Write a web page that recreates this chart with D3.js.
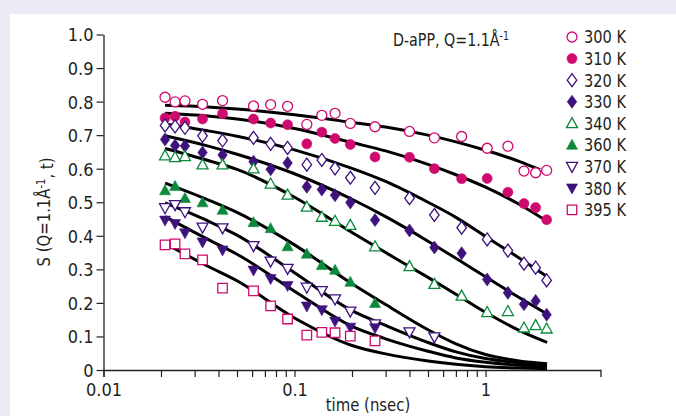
<!DOCTYPE html>
<html>
<head>
<meta charset="utf-8">
<script src="https://cdn.jsdelivr.net/npm/d3@7"></script>
<style>
  html, body { margin: 0; padding: 0; background: #ebebf6; }
  svg { display: block; }
  text { font-family: "Liberation Sans Narrow", "DejaVu Sans Condensed", "Arial Narrow", sans-serif; fill: #231f20; }
</style>
</head>
<body>
<svg id="chart" width="676" height="416"></svg>
<script>
// Measurement times (nsec), shared by all temperatures
const times = [0.021, 0.0237, 0.0267, 0.033, 0.042, 0.061, 0.075, 0.092, 0.116, 0.139, 0.163, 0.196,
               0.264, 0.40, 0.54, 0.75, 1.02, 1.31, 1.59, 1.83, 2.09];

const temperatures = ["300 K", "310 K", "320 K", "330 K", "340 K", "360 K", "370 K", "380 K", "395 K"];

// S(Q=1.1 Å^-1, t) measured at each temperature
const s300 = [0.813, 0.799, 0.802, 0.792, 0.803, 0.787, 0.791, 0.786, 0.732, 0.759, 0.765, 0.735, 0.725, 0.711, 0.692, 0.696, 0.661, 0.667, 0.593, 0.588, 0.595];
const s310 = [0.751, 0.756, 0.739, 0.748, 0.764, 0.748, 0.736, 0.731, 0.674, 0.709, 0.690, 0.672, 0.635, 0.634, 0.600, 0.570, 0.571, 0.530, 0.496, 0.484, 0.448];
const s320 = [0.729, 0.726, 0.722, 0.698, 0.684, 0.692, 0.674, 0.662, 0.612, 0.626, 0.601, 0.573, 0.543, 0.512, 0.462, 0.424, 0.389, 0.356, 0.317, 0.305, 0.267];
const s330 = [0.687, 0.669, 0.668, 0.648, 0.641, 0.621, 0.598, 0.617, 0.546, 0.538, 0.521, 0.499, 0.447, 0.416, 0.365, 0.348, 0.270, 0.230, 0.196, 0.206, 0.165];
const s340 = [0.639, 0.634, 0.637, 0.612, 0.612, 0.600, 0.555, 0.522, 0.486, 0.456, 0.444, 0.432, 0.368, 0.309, 0.256, 0.221, 0.172, 0.175, 0.126, 0.133, 0.123];
const s360 = [0.535, 0.548, 0.512, 0.499, 0.477, 0.440, 0.422, 0.368, 0.346, 0.312, 0.298, 0.262, 0.199];
const s370 = [0.483, 0.492, 0.471, 0.425, 0.423, 0.370, 0.324, 0.302, 0.246, 0.236, 0.211, 0.175, 0.137, 0.113, 0.098];
const s380 = [0.446, 0.436, 0.408, 0.381, 0.357, 0.297, 0.272, 0.251, 0.190, 0.179, 0.145, 0.127, 0.125];
const s395 = [0.373, 0.376, 0.346, 0.328, 0.244, 0.236, 0.191, 0.152, 0.104, 0.112, 0.111, 0.101, 0.087];

// Fitted relaxation curves, [time, S] pairs
const fit300 = [[0.021,0.789],[0.035,0.784],[0.05,0.778],[0.1,0.761],[0.2,0.738],[0.3,0.724],[0.5,0.700],[0.7,0.680],[1.0,0.655],[1.5,0.622],[1.93,0.597]];
const fit310 = [[0.021,0.765],[0.035,0.757],[0.05,0.748],[0.1,0.720],[0.2,0.678],[0.3,0.653],[0.5,0.613],[0.7,0.582],[1.0,0.545],[1.5,0.494],[2.05,0.447]];
const fit320 = [[0.021,0.733],[0.035,0.713],[0.05,0.697],[0.1,0.656],[0.2,0.601],[0.3,0.562],[0.5,0.500],[0.7,0.455],[1.0,0.398],[1.5,0.334],[2.1,0.279]];
const fit330 = [[0.021,0.698],[0.035,0.668],[0.05,0.643],[0.1,0.585],[0.2,0.509],[0.3,0.457],[0.5,0.384],[0.7,0.333],[1.0,0.278],[1.5,0.216],[2.1,0.167]];
const fit340 = [[0.021,0.660],[0.035,0.625],[0.05,0.598],[0.1,0.515],[0.2,0.410],[0.3,0.350],[0.5,0.276],[0.7,0.226],[1.0,0.172],[1.5,0.118],[2.1,0.082]];
const fit360 = [[0.021,0.557],[0.035,0.508],[0.05,0.470],[0.1,0.373],[0.2,0.257],[0.3,0.195],[0.5,0.120],[0.7,0.078],[1.0,0.046],[1.5,0.027],[2.1,0.019]];
const fit370 = [[0.021,0.498],[0.035,0.445],[0.05,0.402],[0.1,0.290],[0.2,0.177],[0.3,0.133],[0.5,0.082],[0.7,0.054],[1.0,0.034],[1.5,0.021],[2.1,0.014]];
const fit380 = [[0.021,0.457],[0.035,0.390],[0.05,0.345],[0.1,0.235],[0.2,0.130],[0.3,0.093],[0.5,0.056],[0.7,0.036],[1.0,0.023],[1.5,0.014],[2.1,0.009]];
const fit395 = [[0.021,0.377],[0.035,0.310],[0.05,0.266],[0.1,0.155],[0.2,0.073],[0.3,0.048],[0.5,0.027],[0.7,0.017],[1.0,0.010],[1.5,0.006],[2.1,0.004]];

// Axis ticks
const yTickValues = [0, 0.1, 0.2, 0.3, 0.4, 0.5, 0.6, 0.7, 0.8, 0.9, 1.0];
const yTickLabels = ["0", "0.1", "0.2", "0.3", "0.4", "0.5", "0.6", "0.7", "0.8", "0.9", "1.0"];
const xLabelValues = [0.01, 0.1, 1];
const xLabelTexts = ["0.01", "0.1", "1"];

// ---- marker shapes (size = nominal radius) ----
const shapes = {
  circle:  { draw(c, r) { c.moveTo(r, 0); c.arc(0, 0, r, 0, 2 * Math.PI); } },
  diamond: { draw(c, r) { c.moveTo(0, -r * 1.3); c.lineTo(r * 0.95, 0); c.lineTo(0, r * 1.3); c.lineTo(-r * 0.95, 0); c.closePath(); } },
  triUp:   { draw(c, r) { c.moveTo(0, -r * 1.15); c.lineTo(r * 1.1, r * 0.85); c.lineTo(-r * 1.1, r * 0.85); c.closePath(); } },
  triDown: { draw(c, r) { c.moveTo(0, r * 1.15); c.lineTo(r * 1.1, -r * 0.85); c.lineTo(-r * 1.1, -r * 0.85); c.closePath(); } },
  square:  { draw(c, r) { c.rect(-r * 0.95, -r * 0.95, r * 1.9, r * 1.9); } }
};

const pink = "#cf0a6e", purple = "#3e127c", green = "#0b8a3b";

const series = [
  { name: temperatures[0], values: s300, fit: fit300, shape: "circle",  color: pink,   filled: false },
  { name: temperatures[1], values: s310, fit: fit310, shape: "circle",  color: pink,   filled: true  },
  { name: temperatures[2], values: s320, fit: fit320, shape: "diamond", color: purple, filled: false },
  { name: temperatures[3], values: s330, fit: fit330, shape: "diamond", color: purple, filled: true  },
  { name: temperatures[4], values: s340, fit: fit340, shape: "triUp",   color: green,  filled: false },
  { name: temperatures[5], values: s360, fit: fit360, shape: "triUp",   color: green,  filled: true  },
  { name: temperatures[6], values: s370, fit: fit370, shape: "triDown", color: purple, filled: false },
  { name: temperatures[7], values: s380, fit: fit380, shape: "triDown", color: purple, filled: true  },
  { name: temperatures[8], values: s395, fit: fit395, shape: "square",  color: pink,   filled: false }
];

const svg = d3.select("#chart");

// white panel on the tinted page
svg.append("rect").attr("x", 10).attr("y", 14).attr("width", 666).attr("height", 402).attr("fill", "#ffffff");

const x = d3.scaleLog().domain([0.01, 4]).range([103.5, 600.5]);
const y = d3.scaleLinear().domain([0, 1]).range([370, 34.5]);

// ---- axes ----
const axisColor = "#231f20";
const yAxis = svg.append("g").attr("transform", "translate(103.5,0)")
  .call(d3.axisLeft(y).tickValues(yTickValues).tickSize(7).tickSizeOuter(0).tickPadding(3)
    .tickFormat((d, i) => yTickLabels[i]));
yAxis.selectAll("text").style("font-size", "18px").attr("dy", "0.36em");

const xMinor = x.ticks().filter(t => t <= 1.0001);
const xAxis = svg.append("g").attr("transform", "translate(0,370)")
  .call(d3.axisBottom(x).tickValues(xMinor).tickSize(7).tickSizeOuter(7).tickPadding(6)
    .tickFormat(t => {
      const k = xLabelValues.findIndex(v => Math.abs(v - t) < 1e-9);
      return k >= 0 ? xLabelTexts[k] : "";
    }));
xAxis.selectAll("text").style("font-size", "18px");

[yAxis, xAxis].forEach(g => {
  g.select(".domain").attr("stroke", axisColor).attr("stroke-width", 1.3);
  g.selectAll(".tick line").attr("stroke", axisColor).attr("stroke-width", 1.2);
  g.selectAll("text").attr("fill", axisColor);
});

// axis titles (narrowed to a condensed look)
svg.append("text").attr("transform", "translate(368,411) scale(0.92,1)").attr("text-anchor", "middle")
  .style("font-size", "18px").text("time (nsec)");

const yTitle = svg.append("text")
  .attr("transform", "translate(50,212) rotate(-90) scale(0.92,1)")
  .attr("text-anchor", "middle").style("font-size", "18px");
yTitle.append("tspan").text("S (Q=1.1Å");
yTitle.append("tspan").attr("dy", "-0.45em").style("font-size", "12px").text("-1");
yTitle.append("tspan").attr("dy", "0.45em").text(", t)");

// ---- fitted curves ----
const line = d3.line().x(d => x(d[0])).y(d => y(d[1])).curve(d3.curveMonotoneX);
svg.append("g").selectAll("path").data(series).join("path")
  .attr("d", d => line(d.fit))
  .attr("fill", "none").attr("stroke", "#000").attr("stroke-width", 3);

// ---- data markers ----
const symbol = d3.symbol();
series.forEach(s => {
  svg.append("g").selectAll("path").data(s.values).join("path")
    .attr("transform", (v, i) => `translate(${x(times[i])},${y(v)})`)
    .attr("d", symbol.type(shapes[s.shape]).size(5)())
    .attr("fill", s.filled ? s.color : "#ffffff")
    .attr("stroke", s.color)
    .attr("stroke-width", s.filled ? 0.6 : 1.3);
});

// ---- title ----
const title = svg.append("text").attr("transform", "translate(393,46) scale(0.88,1)").style("font-size", "18px");
title.append("tspan").text("D-aPP, Q=1.1Å");
title.append("tspan").attr("dy", "-0.5em").style("font-size", "12px").text("-1");

// ---- legend ----
const legend = svg.append("g").selectAll("g").data(series).join("g")
  .attr("transform", (d, i) => `translate(572,${37 + i * 21.6})`);
legend.append("path")
  .attr("d", d => d3.symbol().type(shapes[d.shape]).size(5)())
  .attr("fill", d => d.filled ? d.color : "#ffffff")
  .attr("stroke", d => d.color)
  .attr("stroke-width", d => d.filled ? 0.6 : 1.3);
legend.append("text").attr("transform", "translate(12,0) scale(0.9,1)").attr("dy", "0.36em")
  .style("font-size", "18px").text(d => d.name);
</script>
</body>
</html>
